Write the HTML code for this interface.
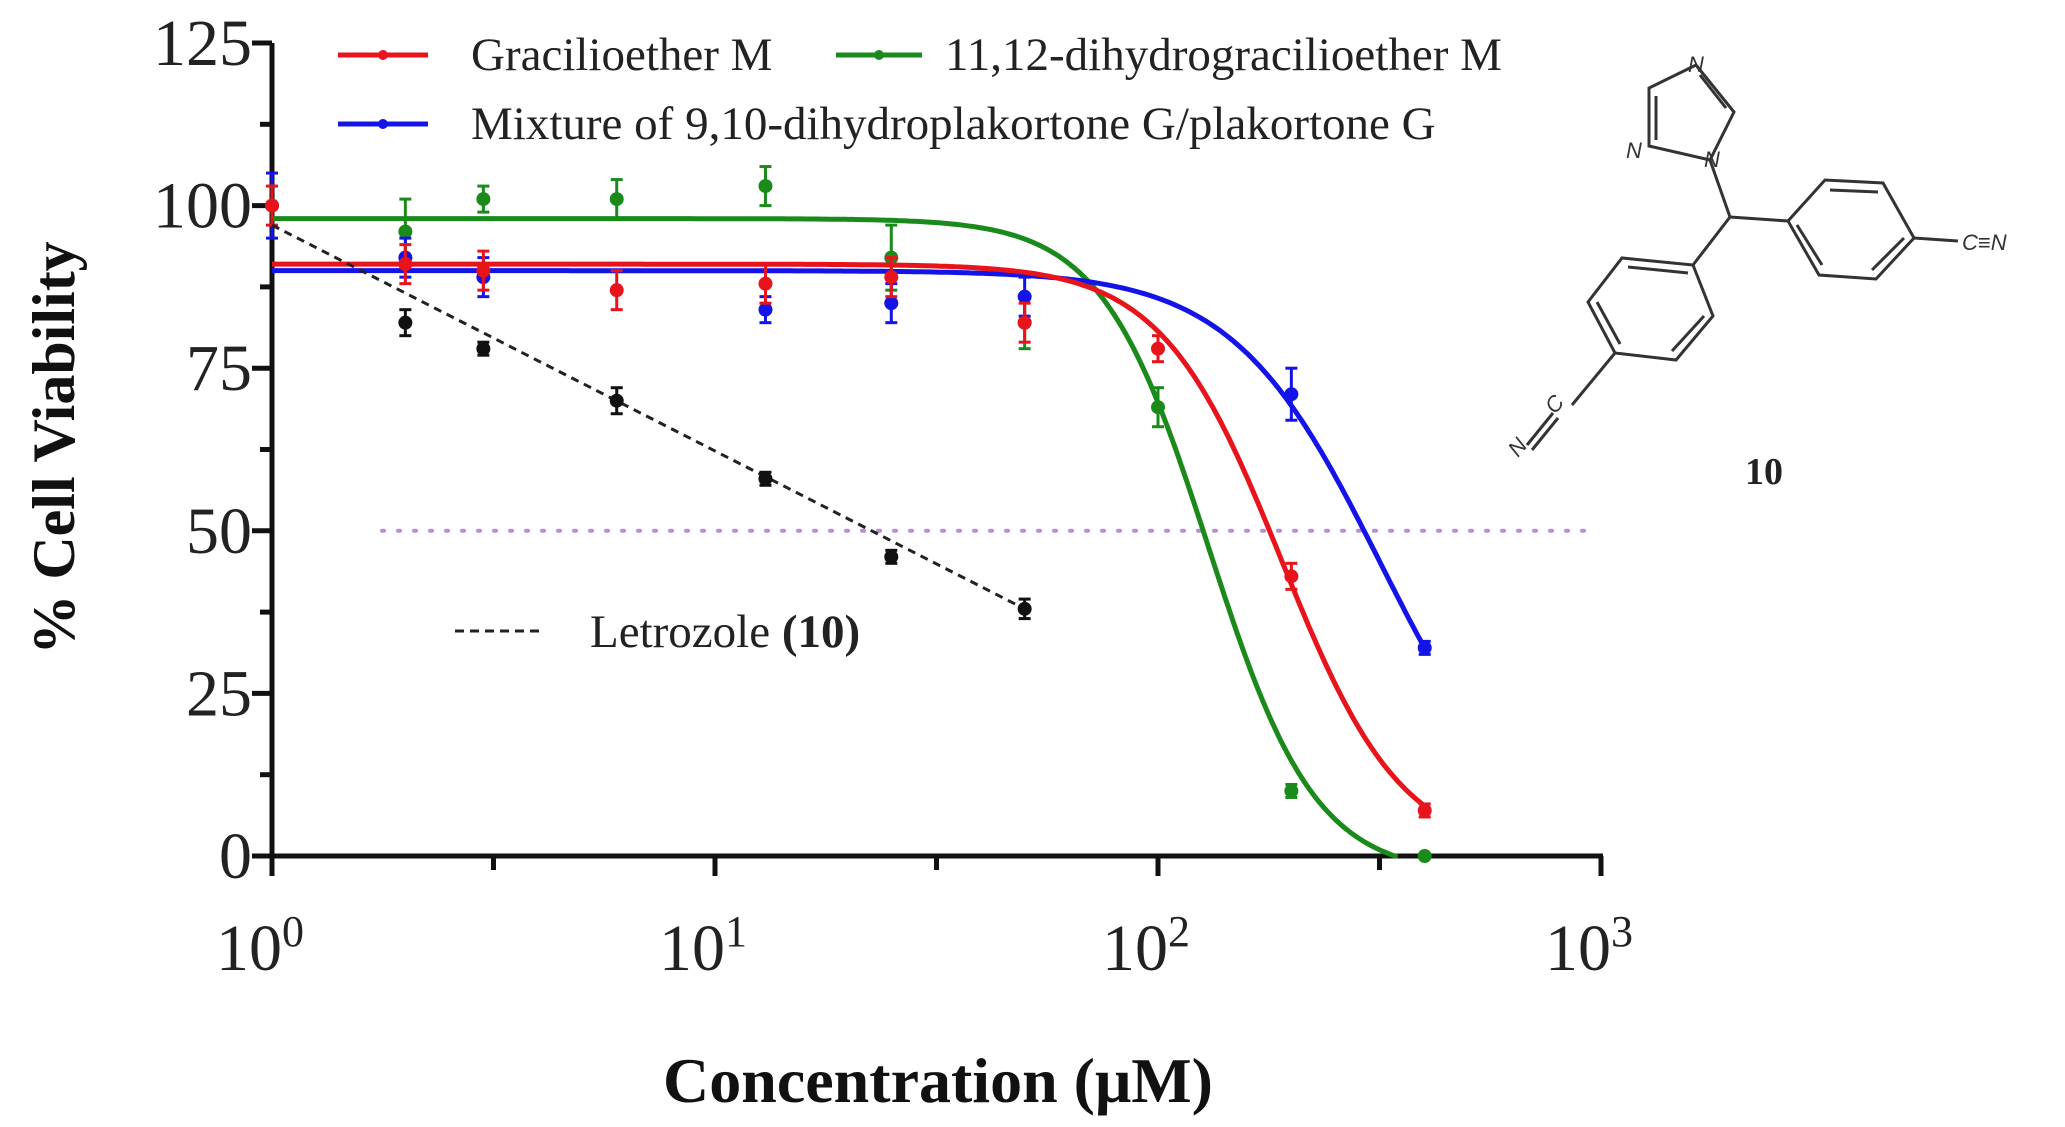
<!DOCTYPE html>
<html><head><meta charset="utf-8"><style>
html,body{margin:0;padding:0;background:#fff;}
svg{display:block;font-family:"Liberation Serif",serif;}
</style></head><body>
<svg id="chart" width="2065" height="1127" viewBox="0 0 2065 1127" xmlns="http://www.w3.org/2000/svg">
<g id="axes"></g>
<g id="plot"></g>
<g id="legend">
  <line x1="338" y1="55" x2="428" y2="55" stroke="#e8141c" stroke-width="5"/><circle cx="383" cy="55" r="5" fill="#e8141c"/>
  <text x="471" y="70" font-size="47" fill="#222">Gracilioether M</text>
  <line x1="836" y1="55" x2="922" y2="55" stroke="#1a8a1a" stroke-width="5"/><circle cx="879" cy="55" r="5" fill="#1a8a1a"/>
  <text x="945" y="70" font-size="47" fill="#222">11,12-dihydrogracilioether M</text>
  <line x1="338" y1="124" x2="428" y2="124" stroke="#1414e8" stroke-width="5"/><circle cx="383" cy="124" r="5" fill="#1414e8"/>
  <text x="471" y="139" font-size="47" fill="#222">Mixture of 9,10-dihydroplakortone G/plakortone G</text>
  <line x1="455" y1="631" x2="540" y2="631" stroke="#222" stroke-width="3" stroke-dasharray="9,6"/>
  <text x="590" y="647" font-size="47" fill="#222">Letrozole <tspan font-weight="bold">(10)</tspan></text>
</g>
<g id="structure" stroke="#333" stroke-width="3" fill="none">
  <polygon points="1696,65 1734,112 1710,160 1649,146 1649,88"/>
  <line x1="1700" y1="75" x2="1726" y2="108"/>
  <line x1="1656" y1="96" x2="1656" y2="140"/>
  <line x1="1710" y1="160" x2="1730" y2="217"/>
  <line x1="1730" y1="217" x2="1788" y2="221"/>
  <polygon points="1788,221 1825,180 1883,183 1914,238 1876,279 1819,275"/>
  <line x1="1830" y1="190" x2="1878" y2="192"/><line x1="1904" y1="238" x2="1872" y2="270"/><line x1="1822" y1="265" x2="1797" y2="225"/>
  <line x1="1914" y1="238" x2="1958" y2="241"/>
  <line x1="1730" y1="217" x2="1693" y2="265"/>
  <polygon points="1693,265 1713,316 1676,360 1615,353 1588,302 1622,258"/>
  <line x1="1628" y1="267" x2="1688" y2="273"/><line x1="1704" y1="316" x2="1672" y2="351"/><line x1="1620" y1="344" x2="1597" y2="302"/>
  <line x1="1615" y1="353" x2="1572" y2="405"/>
  <line x1="1558" y1="418" x2="1532" y2="450"/><line x1="1553" y1="413" x2="1527" y2="445"/>
</g>
<g font-size="22" font-style="italic" fill="#333" font-family="Liberation Sans, sans-serif">
  <text x="1688" y="72">N</text><text x="1626" y="158">N</text><text x="1704" y="167">N</text>
  <text x="1962" y="250">C≡N</text>
  <text x="1555" y="415" transform="rotate(-50 1555 415)">C</text><text x="1518" y="458" transform="rotate(-50 1518 458)">N</text>
  <text x="1764" y="484" font-size="38" font-weight="bold" font-style="normal" font-family="Liberation Serif, serif" fill="#222" text-anchor="middle">10</text>
</g>
</svg>
<script>
const conc = [1, 2, 3, 6, 13, 25, 50, 100, 200, 400];
const redVals = [100, 91, 90, 87, 88, 89, 82, 78, 43, 7];
const redErr = [3, 3, 3, 3, 3, 3, 3, 2, 2, 1];
const greenVals = [null, 96, 101, 101, 103, 92, 82, 69, 10, 0];
const greenErr = [0, 5, 2, 3, 3, 5, 4, 3, 1, 0];
const blueVals = [100, 92, 89, null, 84, 85, 86, null, 71, 32];
const blueErr = [5, 3, 3, 0, 2, 3, 3, 0, 4, 1];
const blackConc = [2, 3, 6, 13, 25, 50];
const blackVals = [82, 78, 70, 58, 46, 38];
const blackErr = [2, 1, 2, 1, 1, 1.5];
const letrozoleLine = [[1, 97], [50, 38]];
const redFit = [91, 0, 190, 3.2];
const greenFit = [98, -3, 130, 3.6];
const blueFit = [90, 0, 318, 2.6];
const yTicks = [0, 25, 50, 75, 100, 125];
const yMinor = [12.5, 37.5, 62.5, 87.5, 112.5];
const xTicks = [0, 1, 2, 3];
const xMinorExp = [0.5, 1.5, 2.5];

const NS = "http://www.w3.org/2000/svg";
const X0 = 272, DEC = 443, Y0 = 856, YTOP = 43;
const xs = c => X0 + Math.log10(c) * DEC;
const ys = v => Y0 - v * (Y0 - YTOP) / 125;
function mk(tag, attrs, parent, text) {
  const e = document.createElementNS(NS, tag);
  for (const k in attrs) e.setAttribute(k, attrs[k]);
  if (text !== undefined) e.textContent = text;
  parent.appendChild(e);
  return e;
}
const axes = document.getElementById('axes');
const plot = document.getElementById('plot');

let e = mk('line', {x1: X0, y1: YTOP, x2: X0, y2: Y0 + 2, stroke: '#111', 'stroke-width': 5}, axes);


e = mk('line', {x1: X0 - 2, y1: Y0, x2: xs(1000) + 2, y2: Y0, stroke: '#111', 'stroke-width': 5}, axes);



yTicks.forEach(v => {
  mk('line', {x1: X0 - 20, y1: ys(v), x2: X0, y2: ys(v), stroke: '#111', 'stroke-width': 5}, axes);
  const t = mk('text', {x: 252, y: ys(v) + 22, 'font-size': 66, 'text-anchor': 'end', fill: '#222'}, axes, String(v));
  
  
});
yMinor.forEach(v => mk('line', {x1: X0 - 12, y1: ys(v), x2: X0, y2: ys(v), stroke: '#111', 'stroke-width': 5}, axes));
xTicks.forEach(p => {
  const x = xs(Math.pow(10, p));
  mk('line', {x1: x, y1: Y0, x2: x, y2: Y0 + 20, stroke: '#111', 'stroke-width': 5}, axes);
  const t = mk('text', {x: x - 12, y: 970, 'font-size': 66, 'text-anchor': 'middle', fill: '#222'}, axes);
  
  
  t.appendChild(document.createTextNode('10'));
  const s = document.createElementNS(NS, 'tspan');
  s.setAttribute('dy', -24); s.setAttribute('font-size', 44); s.textContent = String(p);
  t.appendChild(s);
});
xMinorExp.forEach(p => {
  const x = xs(Math.pow(10, p));
  mk('line', {x1: x, y1: Y0, x2: x, y2: Y0 + 14, stroke: '#111', 'stroke-width': 5}, axes);
});
e = mk('text', {x: 0, y: 0, 'font-size': 60, 'font-weight': 'bold', 'text-anchor': 'middle', fill: '#111', transform: 'translate(74 448) rotate(-90)'}, axes, '% Cell Viability');


e = mk('text', {x: 938, y: 1102, 'font-size': 64, 'font-weight': 'bold', 'text-anchor': 'middle', fill: '#111'}, axes, 'Concentration (μM)');



e = mk('line', {x1: 382, y1: ys(50), x2: 1591, y2: ys(50), stroke: '#b58fd6', 'stroke-width': 4, 'stroke-dasharray': '2,14', 'stroke-linecap': 'round'}, plot);



function fitPath(p) {
  const [top, bot, ic, h] = p;
  let d = '';
  for (let i = 0; i <= 300; i++) {
    const lc = Math.log10(400) * i / 300;
    const c = Math.pow(10, lc);
    let v = bot + (top - bot) / (1 + Math.pow(c / ic, h));
    if (v < 0) { d += (d ? 'L' : 'M') + xs(c).toFixed(1) + ',' + ys(0).toFixed(1); break; }
    d += (d ? 'L' : 'M') + xs(c).toFixed(1) + ',' + ys(v).toFixed(1);
  }
  return d;
}
function series(name, color, fit, vals, errs) {
  const g = mk('g', {}, plot);
  
  
  const p = mk('path', {d: fitPath(fit), fill: 'none', stroke: color, 'stroke-width': 5}, g);
  
  
  vals.forEach((v, i) => {
    if (v === null) return;
    const x = xs(conc[i]), er = errs[i];
    if (er > 0) {
      mk('line', {x1: x, y1: ys(v + er), x2: x, y2: ys(v - er), stroke: color, 'stroke-width': 3}, g);
      mk('line', {x1: x - 6, y1: ys(v + er), x2: x + 6, y2: ys(v + er), stroke: color, 'stroke-width': 3}, g);
      mk('line', {x1: x - 6, y1: ys(v - er), x2: x + 6, y2: ys(v - er), stroke: color, 'stroke-width': 3}, g);
    }
    const c = mk('circle', {cx: x, cy: ys(v), r: 7, fill: color}, g);
    
    
  });
}
series('green', '#1a8a1a', greenFit, greenVals, greenErr);
series('blue', '#1414e8', blueFit, blueVals, blueErr);
series('red', '#e8141c', redFit, redVals, redErr);

const bg = mk('g', {}, plot);


e = mk('line', {x1: xs(letrozoleLine[0][0]), y1: ys(letrozoleLine[0][1]), x2: xs(letrozoleLine[1][0]), y2: ys(letrozoleLine[1][1]), stroke: '#222', 'stroke-width': 3, 'stroke-dasharray': '8,6'}, bg);


blackVals.forEach((v, i) => {
  const x = xs(blackConc[i]), er = blackErr[i];
  mk('line', {x1: x, y1: ys(v + er), x2: x, y2: ys(v - er), stroke: '#111', 'stroke-width': 3}, bg);
  mk('line', {x1: x - 6, y1: ys(v + er), x2: x + 6, y2: ys(v + er), stroke: '#111', 'stroke-width': 3}, bg);
  mk('line', {x1: x - 6, y1: ys(v - er), x2: x + 6, y2: ys(v - er), stroke: '#111', 'stroke-width': 3}, bg);
  const c = mk('circle', {cx: x, cy: ys(v), r: 7, fill: '#111'}, bg);
  
  
});
</script>
</body></html>
